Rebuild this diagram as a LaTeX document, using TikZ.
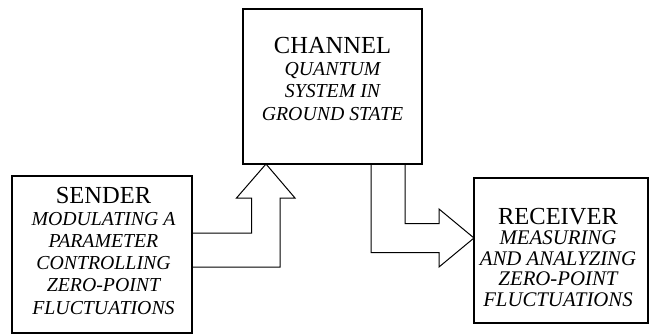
\documentclass[tikz,border=0pt]{standalone}
\usepackage{fontspec}
\setmainfont{Liberation Serif}
\usetikzlibrary{calc}
\tikzset{
  block/.style={draw, line width=2.4pt, outer sep=0pt, inner sep=0pt},
  blocktext/.style={anchor=base, align=center, inner sep=0pt,
    font=\fontsize{19.8}{22.2}\selectfont\itshape},
  blockarrow/.style={line width=1pt, line join=miter},
}
\newcommand{\blocktitle}[1]{{\upshape\fontsize{24.5}{22.2}\selectfont #1}}

\begin{document}
\begin{tikzpicture}[x=1pt, y=-1pt]
\useasboundingbox (0,0) rectangle (654,335);

\node[block, minimum width=180pt, minimum height=157pt] (sender) at (102,254.5) {};
\node[block, minimum width=179pt, minimum height=155pt] (channel) at (332.5,86.5) {};
\node[block, minimum width=174pt, minimum height=145pt] (receiver) at (561,250.5) {};

\node[blocktext] (sendertxt) at ($(sender.north)+(1.5,138)$)
  {\blocktitle{SENDER}\\ MODULATING A\\ PARAMETER\\ CONTROLLING\\ ZERO-POINT\\ FLUCTUATIONS};
\node[blocktext] (channeltxt) at ($(channel.north)+(0,111)$)
  {\blocktitle{CHANNEL}\\ QUANTUM\\ SYSTEM IN\\ GROUND STATE};
\node[blocktext, font=\fontsize{20.8}{20.5}\selectfont\itshape] (receivertxt) at ($(receiver.north)+(-3,128)$)
  {\blocktitle{RECEIVER}\\ MEASURING\\ AND ANALYZING\\ ZERO-POINT\\ FLUCTUATIONS};

\coordinate (uptip) at ($(channel.south west)+(23,0)$);
\coordinate (rtip) at ($(receiver.north west)+(0,60)$);

\draw[blockarrow] ($(sender.north east)+(0,57)$) -| ($(uptip)+(-14.5,34)$) -- ++(-15,0)
  -- (uptip) -- ($(uptip)+(29,34)$) -- ++(-15,0) |- ($(sender.north east)+(0,91)$);
\draw[blockarrow] ($(channel.south east)+(-17,0)$) |- ($(rtip)+(-35,-14.5)$) -- ++(0,-14.5)
  -- (rtip) -- ($(rtip)+(-35,29)$) -- ++(0,-14.5) -| ($(channel.south east)+(-51,0)$);
\end{tikzpicture}
\end{document}
